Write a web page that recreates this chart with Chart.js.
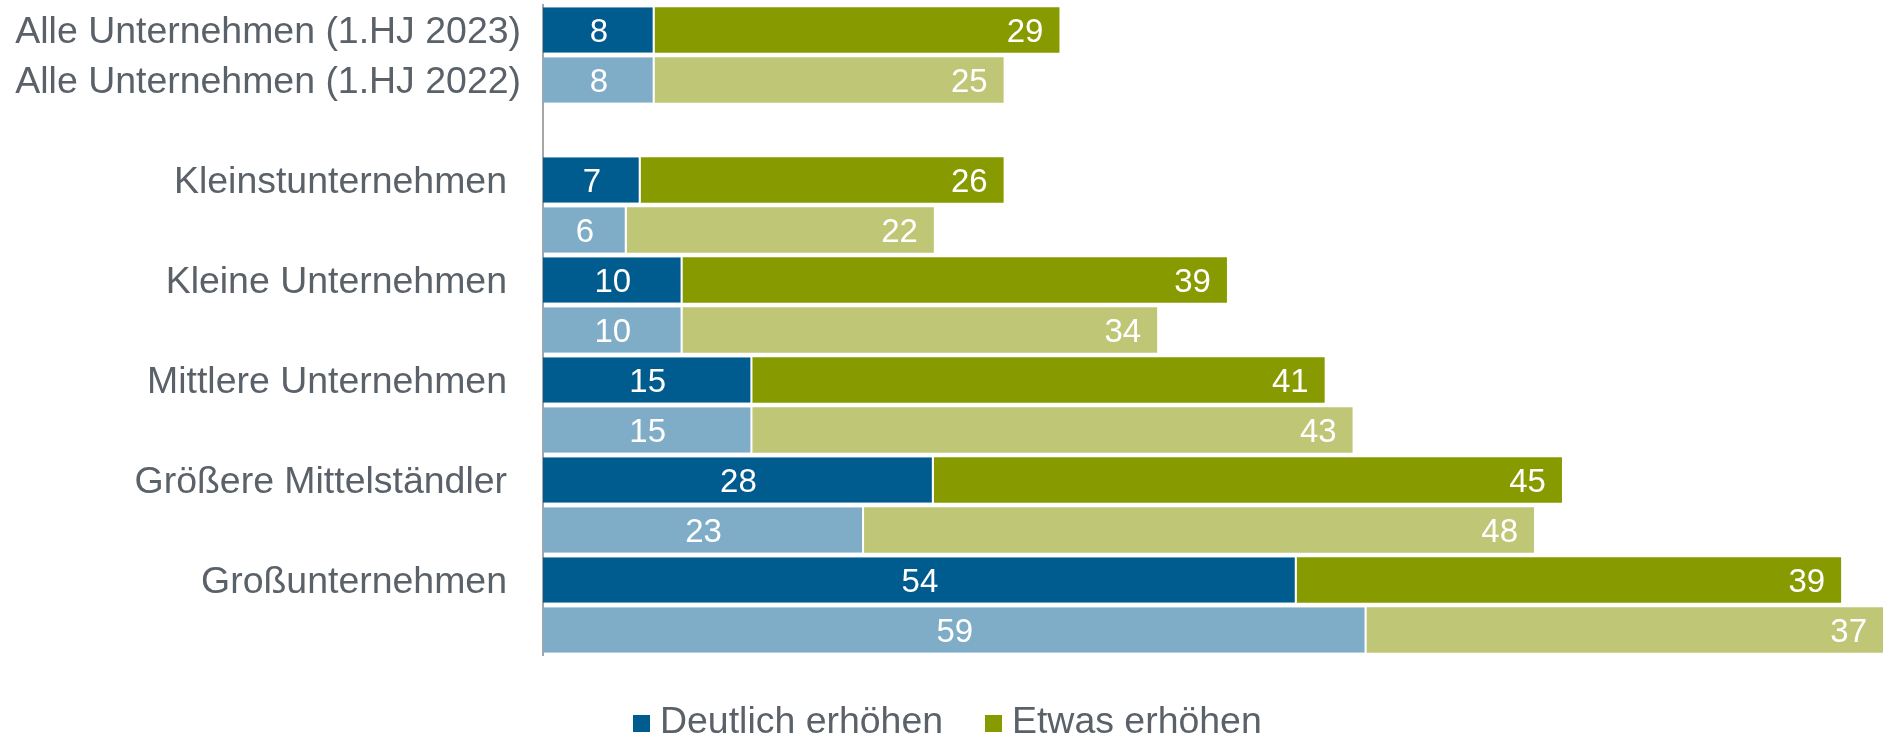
<!DOCTYPE html>
<html>
<head>
<meta charset="utf-8">
<script src="https://cdn.jsdelivr.net/npm/chart.js@4.4.1/dist/chart.umd.min.js"></script>
<style>
  body { margin: 0; background: #fff; }
</style>
</head>
<body>
<canvas id="barchart" width="1883" height="735"></canvas>
<script>
// Data
const categories = ['Alle Unternehmen (1.HJ 2023)', 'Alle Unternehmen (1.HJ 2022)', '', 'Kleinstunternehmen', '', 'Kleine Unternehmen', '', 'Mittlere Unternehmen', '', 'Größere Mittelständler', '', 'Großunternehmen', ''];
const periods = ['2023', '2022', null, '2023', '2022', '2023', '2022', '2023', '2022', '2023', '2022', '2023', '2022'];
const deutlich = [8, 8, null, 7, 6, 10, 10, 15, 15, 28, 23, 54, 59];
const etwas = [29, 25, null, 26, 22, 39, 34, 41, 43, 45, 48, 39, 37];
const seriesNames = ['Deutlich erhöhen', 'Etwas erhöhen'];

const dark = ['#005B8E', '#879B00'];
const light = ['#7FACC6', '#BFC777'];
const textGray = '#5A6169';
const labelFont = '36px "Liberation Sans", Arial, sans-serif';
const valueFont = '33px "Liberation Sans", Arial, sans-serif';
const stretch = 1.04;

function colorFor(series) {
    return function (ctx) {
        return periods[ctx.dataIndex] === '2022' ? light[series] : dark[series];
    };
}

function stretchedText(ctx, text, x, y, align) {
    ctx.save();
    ctx.font = labelFont;
    const w = ctx.measureText(text).width * stretch;
    const left = align === 'right' ? x - w : x;
    ctx.translate(left, y);
    ctx.scale(stretch, 1);
    ctx.textAlign = 'left';
    ctx.textBaseline = 'alphabetic';
    ctx.fillText(text, 0, 0);
    ctx.restore();
}

// category labels + bar values + legend
const labelsPlugin = {
    id: 'labelsPlugin',
    afterDraw(chart) {
        const ctx = chart.ctx;
        const yScale = chart.scales.y;
        const area = chart.chartArea;

        ctx.save();
        ctx.fillStyle = textGray;
        categories.forEach(function (label, i) {
            if (!label) return;
            const gap = i < 2 ? 22 : 36;
            stretchedText(ctx, label, area.left - gap, yScale.getPixelForValue(i) + 13, 'right');
        });

        ctx.font = valueFont;
        ctx.fillStyle = '#ffffff';
        ctx.textBaseline = 'alphabetic';
        chart.data.datasets.forEach(function (ds, d) {
            chart.getDatasetMeta(d).data.forEach(function (bar, i) {
                const v = ds.data[i];
                if (v === null) return;
                if (d === 0) {
                    ctx.textAlign = 'center';
                    ctx.fillText(v, (bar.base + bar.x) / 2, bar.y + 12);
                } else {
                    ctx.textAlign = 'right';
                    ctx.fillText(v, bar.x - 16, bar.y + 12);
                }
            });
        });

        // legend
        const legendX = [633, 985];
        seriesNames.forEach(function (name, d) {
            ctx.fillStyle = dark[d];
            ctx.fillRect(legendX[d], 715, 17, 17);
            ctx.fillStyle = textGray;
            stretchedText(ctx, name, legendX[d] + 27, 733, 'left');
        });
        ctx.restore();
    }
};

new Chart('barchart', {
    type: 'bar',
    data: {
        labels: categories,
        datasets: [{
            label: seriesNames[0],
            data: deutlich,
            backgroundColor: colorFor(0),
            borderColor: '#ffffff',
            borderWidth: { top: 0, right: 2, bottom: 0, left: 0 },
            borderSkipped: false,
        }, {
            label: seriesNames[1],
            data: etwas,
            backgroundColor: colorFor(1),
            borderWidth: 0,
        }]
    },
    options: {
        indexAxis: 'y',
        responsive: false,
        animation: false,
        barPercentage: 0.91,
        categoryPercentage: 1,
        layout: { padding: { top: 5, bottom: 80, left: 0, right: 0 } },
        plugins: {
            legend: { display: false },
            tooltip: { enabled: false },
        },
        scales: {
            x: {
                stacked: true,
                display: false,
                min: 0,
                max: 96,
            },
            y: {
                stacked: true,
                grid: { display: false },
                border: { display: true, color: '#A6A6A6', width: 2 },
                ticks: { display: false },
                afterFit: function (scale) { scale.width = 543; },
            }
        }
    },
    plugins: [labelsPlugin]
});
</script>
</body>
</html>
